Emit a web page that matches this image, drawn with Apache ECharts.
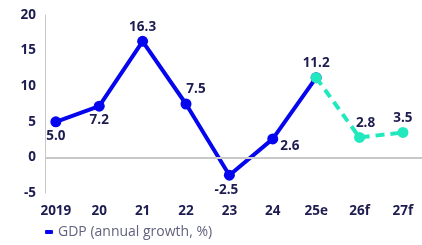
<!DOCTYPE html>
<html>
<head>
<meta charset="utf-8">
<script src="https://cdn.jsdelivr.net/npm/echarts@6/dist/echarts.min.js"></script>
<style>
  html, body { margin: 0; padding: 0; background: #fff; }
  #chart { width: 422px; height: 245px; }
</style>
</head>
<body>
<div id="chart"></div>
<script>
// data
const years = ['2019', '20', '21', '22', '23', '24', '25e', '26f', '27f']
const gdp = [5.0, 7.2, 16.3, 7.5, -2.5, 2.6, 11.2, 2.8, 3.5]
const lastActual = 6   // 25e is where the forecast part starts
const yTicks = [-5, 0, 5, 10, 15, 20]

const navy = '#1c1c50'
const blue = '#0505ee'
const teal = '#22e8bd'

// label placement per point (style only)
const labelPlace = [
  { position: 'bottom', offset: [0, 0] },
  { position: 'bottom', offset: [0, 0] },
  { position: 'top', offset: [0, 0] },
  { position: 'top', offset: [10, 0] },
  { position: 'bottom', offset: [-3, 0] },
  { position: 'right', offset: [0, 7] },
  { position: 'top', offset: [0, 0] },
  { position: 'top', offset: [6, 0] },
  { position: 'top', offset: [0, 0] }
]

const labelFont = {
  show: true,
  color: navy,
  fontFamily: 'Open Sans',
  fontWeight: 'bold',
  fontSize: 13.5,
  distance: 2,
  formatter: p => p.value[1].toFixed(1)
}

const solidData = []
const dashData = []
gdp.forEach((v, i) => {
  if (i < lastActual) {
    solidData.push({ value: [i, v], label: labelPlace[i] })
  } else if (i === lastActual) {
    solidData.push({ value: [i, v], label: { show: false } })
    dashData.push({ value: [i, v], label: labelPlace[i] })
  } else {
    dashData.push({ value: [i, v], label: labelPlace[i] })
  }
})

const chart = echarts.init(document.getElementById('chart'))

chart.setOption({
  animation: false,
  grid: { left: 45, right: 0, top: 15, bottom: 52 },
  legend: {
    left: 40,
    bottom: 1,
    data: [{ name: 'GDP (annual growth, %)', icon: 'roundRect' }],
    itemWidth: 8,
    itemHeight: 4,
    itemGap: 4,
    textStyle: { color: '#62627e', fontFamily: 'Open Sans', fontSize: 14 }
  },
  xAxis: {
    type: 'value',
    min: -0.25,
    max: 8.44,
    axisLine: { show: false },
    axisTick: { show: false },
    splitLine: { show: false },
    axisLabel: {
      customValues: years.map((y, i) => i),
      formatter: v => years[v],
      color: navy,
      fontFamily: 'Open Sans',
      fontWeight: 'bold',
      fontSize: 13.5,
      margin: 11
    }
  },
  yAxis: {
    type: 'value',
    min: -5,
    max: 20,
    interval: 5,
    axisLine: { show: true, onZero: false, lineStyle: { color: '#c8c8c8', width: 1 } },
    axisTick: { show: false },
    splitLine: { show: false },
    axisLabel: {
      customValues: yTicks,
      color: navy,
      fontFamily: 'Open Sans',
      fontWeight: 'bold',
      fontSize: 13.5,
      margin: 9
    }
  },
  series: [
    {
      name: 'GDP (annual growth, %)',
      type: 'line',
      data: solidData,
      symbol: 'circle',
      symbolSize: 11,
      itemStyle: { color: blue },
      lineStyle: { color: blue, width: 4 },
      label: labelFont,
      markLine: {
        silent: true,
        symbol: 'none',
        label: { show: false },
        lineStyle: { color: '#c8c8c8', type: 'solid', width: 2 },
        data: [{ yAxis: 0 }]
      },
      z: 2
    },
    {
      name: 'forecast',
      type: 'line',
      data: dashData,
      symbol: 'circle',
      symbolSize: 11,
      itemStyle: { color: teal },
      lineStyle: { color: teal, width: 4, type: [9, 6] },
      label: labelFont,
      z: 3
    }
  ]
})
</script>
</body>
</html>
